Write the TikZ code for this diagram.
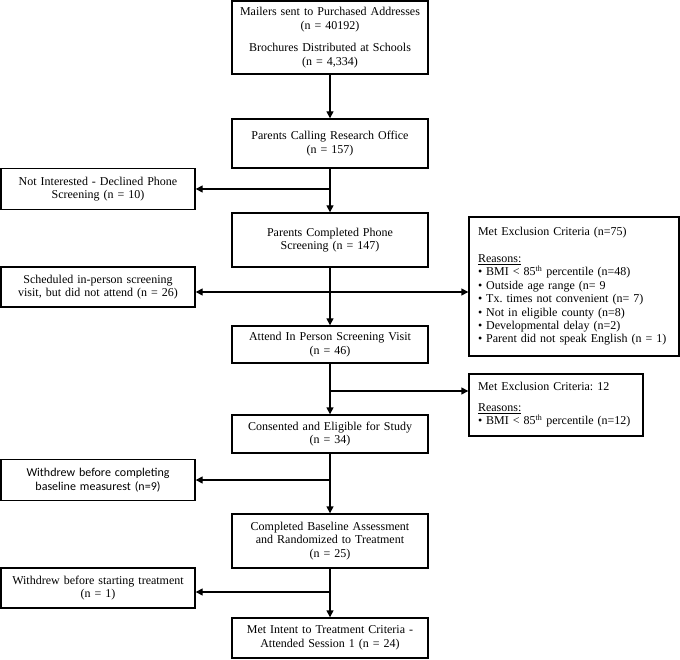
\documentclass[tikz,border=0pt]{standalone}
\usepackage{fontspec}
\setmainfont{Liberation Serif}
\newfontfamily\calfont{Carlito}
\usetikzlibrary{arrows.meta}
\frenchspacing
\begin{document}
\begin{tikzpicture}[x=1pt,y=-1pt,
  box/.style={draw, line width=1.4pt, align=center, inner sep=2pt, font=\fontsize{12}{13.6}\selectfont},
  mainbox/.style={box, minimum width=196pt, text width=190pt},
  sidebox/.style={box, minimum width=194pt, text width=188pt},
  exbox/.style={draw, line width=1.4pt, align=left, inner sep=2pt, font=\fontsize{12}{13.4}\selectfont},
  arr/.style={line width=1.4pt, -{Triangle[length=7pt,width=7pt]}}]
\useasboundingbox (0,0) rectangle (680,660);
% main column
\node[mainbox, minimum height=73pt] (b1) at (330,37.5) {Mailers sent to Purchased Addresses\\(n = 40192)\\[9pt]Brochures Distributed at Schools\\(n = 4,334)};
\node[mainbox, minimum height=49pt] (b2) at (330,143.5) {Parents Calling Research Office\\(n = 157)};
\node[mainbox, minimum height=54pt] (b3) at (330,240) {Parents Completed Phone\\Screening (n = 147)};
\node[mainbox, minimum height=37pt] (b4) at (330,344.5) {Attend In Person Screening Visit\\(n = 46)};
\node[mainbox, minimum height=38pt] (b5) at (330,434) {Consented and Eligible for Study\\(n = 34)};
\node[mainbox, minimum height=54pt] (b6) at (330,541) {Completed Baseline Assessment\\and Randomized to Treatment\\(n = 25)};
\node[mainbox, minimum height=40pt] (b7) at (330,638) {Met Intent to Treatment Criteria -\\Attended Session 1 (n = 24)};
% left boxes
\node[sidebox, minimum height=41pt] (L1) at (98,189) {Not Interested - Declined Phone\\Screening (n = 10)};
\node[sidebox, minimum height=40pt] (L2) at (98,287) {Scheduled in-person screening\\visit, but did not attend (n = 26)};
\node[sidebox, minimum height=41pt, font=\calfont\fontsize{12}{14}\selectfont] (L3) at (98,480) {Withdrew before completing\\baseline measurest (n=9)};
\node[sidebox, minimum height=40pt] (L4) at (98,588) {Withdrew before starting treatment\\(n = 1)};
% right boxes
\node[exbox, minimum width=210pt, minimum height=139pt, text width=192pt] (R1) at (574,286.5) {Met Exclusion Criteria (n=75)\\[13.4pt]\underline{Reasons:}\\\textbullet\ BMI {\textless} 85\textsuperscript{th} percentile (n=48)\\\textbullet\ Outside age range (n= 9\\\textbullet\ Tx. times not convenient (n= 7)\\\textbullet\ Not in eligible county (n=8)\\\textbullet\ Developmental delay (n=2)\\\textbullet\ Parent did not speak English (n = 1)};
\node[exbox, minimum width=174pt, minimum height=62pt, text width=156pt] (R2) at (556,405) {Met Exclusion Criteria: 12\\[7pt]\underline{Reasons:}\\\textbullet\ BMI {\textless} 85\textsuperscript{th} percentile (n=12)};
% junctions
\coordinate (j2) at (330,292);
\coordinate (j3) at (330,391);
\coordinate (j4) at (330,592);
% connectors
\draw[arr] (b1.south) -- (b2.north);
\draw[arr] (b2.south) -- (b3.north);
\draw[arr] (b2.south |- L1.east) -- (L1.east);
\draw[arr] (b3.south) -- (b4.north);
\draw[arr] (j2) -- (j2 -| L2.east);
\draw[arr] (j2) -- (j2 -| R1.west);
\draw[arr] (b4.south) -- (b5.north);
\draw[arr] (j3) -- (j3 -| R2.west);
\draw[arr] (b5.south) -- (b6.north);
\draw[arr] (b5.south |- L3.east) -- (L3.east);
\draw[arr] (b6.south) -- (b7.north);
\draw[arr] (j4) -- (j4 -| L4.east);
\end{tikzpicture}
\end{document}
